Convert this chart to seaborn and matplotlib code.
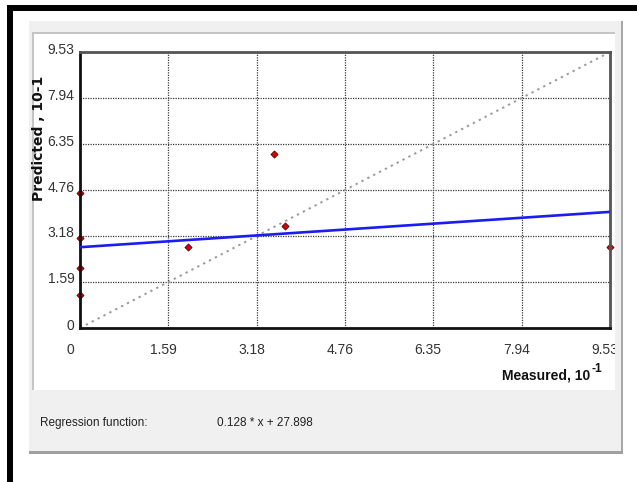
import matplotlib
matplotlib.use("Agg")
import matplotlib.pyplot as plt
from matplotlib.patches import Rectangle
from matplotlib.transforms import ScaledTranslation, Bbox, TransformedBbox
import seaborn as sns
import pandas as pd

# Measured vs. predicted values (axes in units of 10^-1)
measured = [0.0, 0.0, 0.0, 0.0, 1.94, 3.49, 3.69, 9.53]
predicted = [4.66, 3.11, 2.07, 1.14, 2.80, 6.01, 3.52, 2.78]

tick_values = [0, 1.59, 3.18, 4.76, 6.35, 7.94, 9.53]
tick_labels = ["0", "1.59", "3.18", "4.76", "6.35", "7.94", "9.53"]

# Regression function: 0.128 * x + 27.898 (intercept expressed in raw units)
reg_slope = 0.128
reg_intercept = 27.898
unit_scale = 10.0

axis_max = 9.53

W, H = 637, 482
FONTS = ["Liberation Sans", "DejaVu Sans"]

sns.set_style("white")
plt.rcParams["font.family"] = FONTS

fig = plt.figure(figsize=(W / 100, H / 100), dpi=100)
fig.patch.set_facecolor("white")


def px_rect(x0, y0, x1, y1, **kw):
    r = Rectangle((x0 / W, 1 - y1 / H), (x1 - x0) / W, (y1 - y0) / H,
                  transform=fig.transFigure, zorder=0, **kw)
    fig.patches.append(r)
    return r


# window frame
px_rect(7, 5, W, 11, facecolor="black", edgecolor="none")
px_rect(7, 5, 13, H, facecolor="black", edgecolor="none")
# grey dialog panel
px_rect(29, 21, 623, 454, facecolor="#f0f0f0", edgecolor="none")
px_rect(621, 21, 623, 454, facecolor="#a8a8a8", edgecolor="none")
px_rect(29, 451, 623, 454, facecolor="#a0a0a0", edgecolor="none")
# white chart panel
px_rect(32, 32, 615, 390, facecolor="white", edgecolor="none")
px_rect(32, 32, 615, 34, facecolor="#c4c4c4", edgecolor="none")
px_rect(32, 32, 34, 390, facecolor="#c4c4c4", edgecolor="none")

ax = fig.add_axes([80 / W, 1 - 328 / H, 530 / W, 276 / H])
ax.set_zorder(5)
ax.set_facecolor("white")

df = pd.DataFrame({"Measured": measured, "Predicted": predicted})

# ideal line y = x
sns.lineplot(x=[0, axis_max], y=[0, axis_max], ax=ax, color="#9a9a9a",
             lw=1.4, linestyle=(0, (1.2, 2.2)), zorder=2)

# regression line
reg_x = [0, axis_max]
reg_y = [reg_slope * v + reg_intercept / unit_scale for v in reg_x]
sns.lineplot(x=reg_x, y=reg_y, ax=ax, color="#1c1cf0", lw=1.9, zorder=3)

# data points
sns.scatterplot(data=df, x="Measured", y="Predicted", ax=ax, marker="D",
                s=13, color="#d40000", edgecolor="#5a0000", linewidth=0.6,
                clip_on=False, zorder=1.5)

ax.set_xlim(0, axis_max)
ax.set_ylim(0, axis_max)
ax.set_xticks(tick_values)
ax.set_yticks(tick_values)
ax.set_xticklabels(tick_labels)
ax.set_yticklabels(tick_labels)
ax.set_xlabel("")
ax.set_ylabel("")

ax.grid(True, linestyle=(0, (1, 1)), color="#3a3a3a", lw=0.9)
ax.set_axisbelow(True)

for side in ("left", "bottom"):
    ax.spines[side].set_color("#111111")
    ax.spines[side].set_linewidth(2.0)
for side in ("top", "right"):
    ax.spines[side].set_color("#555555")
    ax.spines[side].set_linewidth(2.0)
for s in ax.spines.values():
    s.set_visible(True)

ax.tick_params(axis="both", length=3, width=1, color="#555555",
               direction="out", labelsize=10, labelcolor="#333333")
ax.tick_params(axis="x", pad=8)
ax.tick_params(axis="y", pad=1)

# nudge tick labels
for lbl in ax.get_xticklabels():
    dx = -10 if lbl.get_text() == "0" else -5
    lbl.set_transform(lbl.get_transform() + ScaledTranslation(dx / 100, 0, fig.dpi_scale_trans))
for lbl in ax.get_yticklabels():
    lbl.set_transform(lbl.get_transform() + ScaledTranslation(0, 4 / 100, fig.dpi_scale_trans))

# last x label is cut by the chart panel edge
panel_clip = TransformedBbox(Bbox([[0, 0], [615 / W, 1]]), fig.transFigure)
last = ax.get_xticklabels()[-1]
last.set_clip_box(panel_clip)
last.set_clip_on(True)

# axis titles
fig.text(39 / W, 1 - 138 / H, "Predicted , 10-1", rotation=90,
         ha="center", va="center", fontsize=10, fontweight="bold",
         family=["DejaVu Sans"], color="#111111", zorder=6)
fig.text(590 / W, 1 - 375 / H, "Measured, 10", ha="right", va="center",
         fontsize=10, fontweight="bold", color="#111111", zorder=6)
fig.text(591 / W, 1 - 369 / H, "-1", ha="left", va="center",
         fontsize=8.5, fontweight="bold", color="#111111", zorder=6)

# regression function row
fig.text(40 / W, 1 - 423 / H, "Regression function:", ha="left", va="center",
         fontsize=8.5, color="#222222", zorder=6)
fig.text(217 / W, 1 - 423 / H,
         f"{reg_slope:.3f} * x + {reg_intercept:.3f}", ha="left", va="center",
         fontsize=8.5, color="#222222", zorder=6)

fig.savefig("out.png", dpi=100)
